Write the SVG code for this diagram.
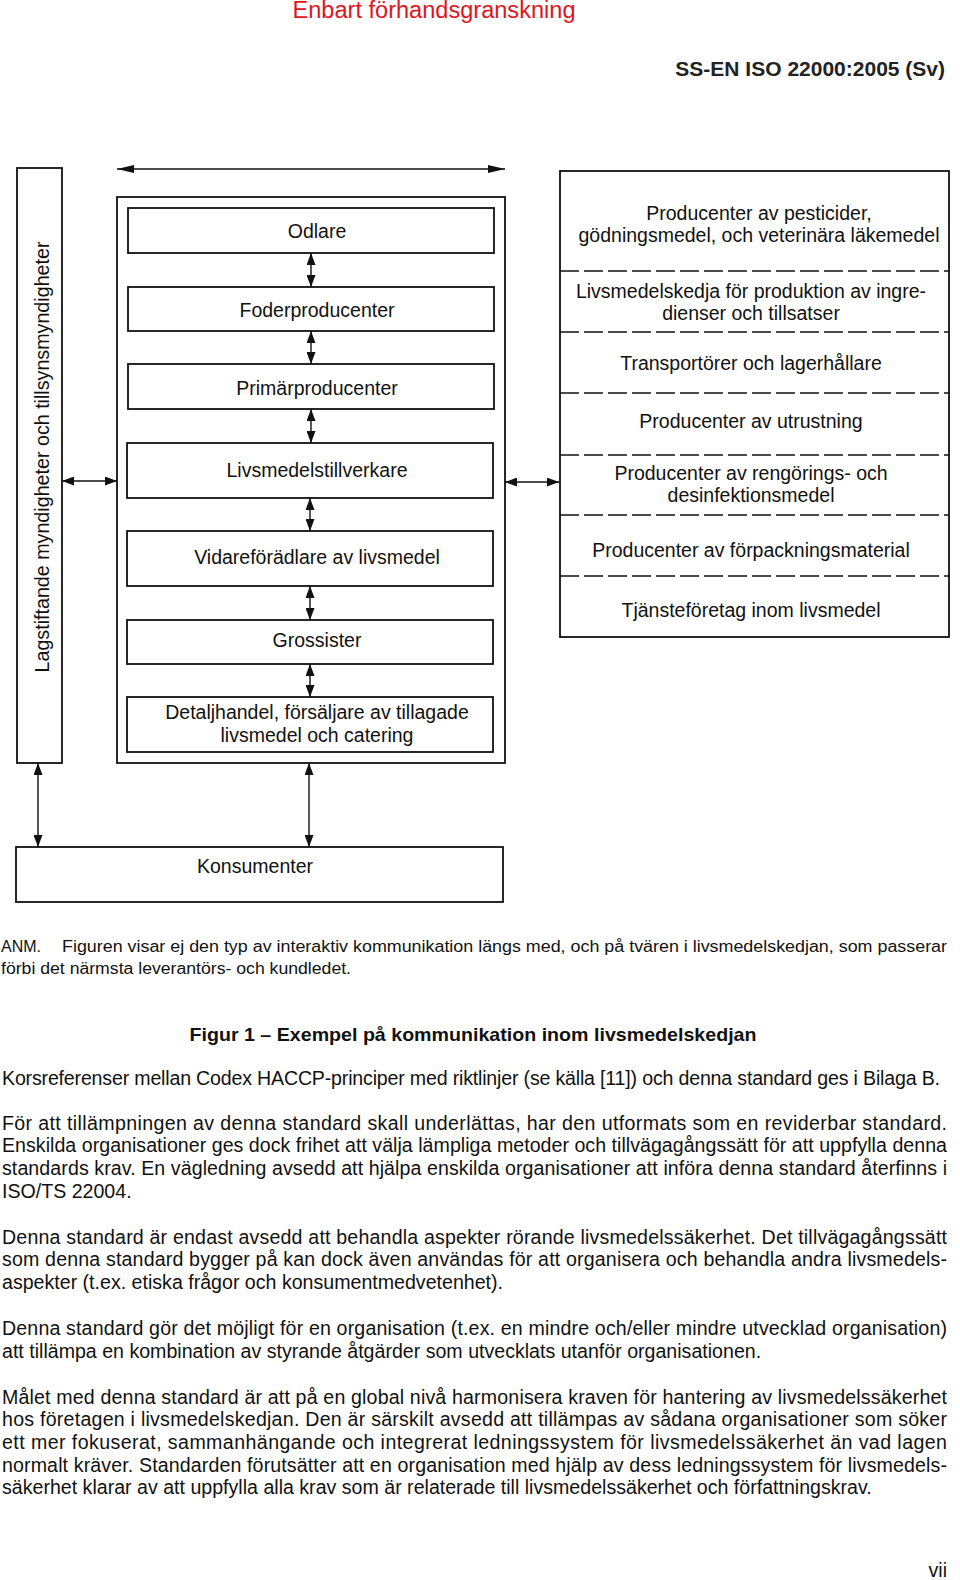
<svg xmlns="http://www.w3.org/2000/svg" width="960" height="1580" viewBox="0 0 960 1580">
<defs>
<style>
.box{fill:none;stroke:#111;stroke-width:1.8}
.dash{fill:none;stroke:#111;stroke-width:1.7;stroke-dasharray:19 5}
.con{fill:none;stroke:#111;stroke-width:1.4}
.lbl{font-family:"Liberation Sans",Arial,sans-serif;font-size:19.5px;fill:#111;text-anchor:middle}
.body{font-family:"Liberation Sans",Arial,sans-serif;font-size:19.6px;fill:#111}
.note{font-family:"Liberation Sans",Arial,sans-serif;font-size:16px;fill:#111}
</style>
<marker id="ah" viewBox="0 0 12 9" refX="12" refY="4.5" markerWidth="12" markerHeight="9" orient="auto-start-reverse" markerUnits="userSpaceOnUse"><path d="M0,0 L12,4.5 L0,9 z" fill="#111"/></marker>
<marker id="ahl" viewBox="0 0 17 8" refX="17" refY="4" markerWidth="17" markerHeight="8" orient="auto-start-reverse" markerUnits="userSpaceOnUse"><path d="M0,0 L17,4 L0,8 z" fill="#111"/></marker>
</defs>
<rect width="960" height="1580" fill="#fff"/>

<text x="434" y="18" font-family="Liberation Sans,Arial,sans-serif" font-size="23" fill="#e0141e" text-anchor="middle" textLength="283" lengthAdjust="spacingAndGlyphs">Enbart förhandsgranskning</text>
<text x="945" y="76" font-family="Liberation Sans,Arial,sans-serif" font-size="21" font-weight="bold" fill="#222" text-anchor="end">SS-EN ISO 22000:2005 (Sv)</text>

<g id="connectors">
<line class="con" x1="117" y1="169" x2="505" y2="169" marker-start="url(#ahl)" marker-end="url(#ahl)"/>
<line class="con" x1="311" y1="253" x2="311" y2="287" marker-start="url(#ah)" marker-end="url(#ah)"/>
<line class="con" x1="311" y1="331" x2="311" y2="364" marker-start="url(#ah)" marker-end="url(#ah)"/>
<line class="con" x1="311" y1="409" x2="311" y2="443" marker-start="url(#ah)" marker-end="url(#ah)"/>
<line class="con" x1="310" y1="498" x2="310" y2="531" marker-start="url(#ah)" marker-end="url(#ah)"/>
<line class="con" x1="310" y1="586" x2="310" y2="620" marker-start="url(#ah)" marker-end="url(#ah)"/>
<line class="con" x1="310" y1="664" x2="310" y2="697" marker-start="url(#ah)" marker-end="url(#ah)"/>
<line class="con" x1="62" y1="481" x2="117" y2="481" marker-start="url(#ah)" marker-end="url(#ah)"/>
<line class="con" x1="505" y1="482" x2="559" y2="482" marker-start="url(#ah)" marker-end="url(#ah)"/>
<line class="con" x1="38" y1="763" x2="38" y2="847" marker-start="url(#ah)" marker-end="url(#ah)"/>
<line class="con" x1="309" y1="763" x2="309" y2="847" marker-start="url(#ah)" marker-end="url(#ah)"/>
</g>

<g id="authorities">
<rect class="box" x="17" y="168" width="45" height="595"/>
<text class="lbl" transform="translate(49,457) rotate(-90)" x="0" y="0" textLength="431" lengthAdjust="spacingAndGlyphs">Lagstiftande myndigheter och tillsynsmyndigheter</text>
</g>

<g id="chain">
<rect class="box" x="117" y="197" width="388" height="566"/>
</g>
<g id="odlare">
<rect class="box" x="128" y="208" width="366" height="45"/>
<text class="lbl" x="317" y="238">Odlare</text>
</g>
<g id="foder">
<rect class="box" x="128" y="287" width="366" height="44"/>
<text class="lbl" x="317" y="317">Foderproducenter</text>
</g>
<g id="primar">
<rect class="box" x="128" y="364" width="366" height="45"/>
<text class="lbl" x="317" y="395">Primärproducenter</text>
</g>
<g id="tillverkare">
<rect class="box" x="127" y="443" width="366" height="55"/>
<text class="lbl" x="317" y="477">Livsmedelstillverkare</text>
</g>
<g id="vidare">
<rect class="box" x="127" y="531" width="366" height="55"/>
<text class="lbl" x="317" y="564">Vidareförädlare av livsmedel</text>
</g>
<g id="grossister">
<rect class="box" x="127" y="620" width="366" height="44"/>
<text class="lbl" x="317" y="647">Grossister</text>
</g>
<g id="detalj">
<rect class="box" x="127" y="697" width="366" height="55"/>
<text class="lbl" x="317" y="719">Detaljhandel, försäljare av tillagade</text>
<text class="lbl" x="317" y="742">livsmedel och catering</text>
</g>

<g id="suppliers">
<rect class="box" x="560" y="171" width="389" height="466"/>
<line class="dash" x1="560" y1="271" x2="949" y2="271"/>
<line class="dash" x1="560" y1="332" x2="949" y2="332"/>
<line class="dash" x1="560" y1="393" x2="949" y2="393"/>
<line class="dash" x1="560" y1="455" x2="949" y2="455"/>
<line class="dash" x1="560" y1="515" x2="949" y2="515"/>
<line class="dash" x1="560" y1="576" x2="949" y2="576"/>
<text class="lbl" x="759" y="220">Producenter av pesticider,</text>
<text class="lbl" x="759" y="242">gödningsmedel, och veterinära läkemedel</text>
<text class="lbl" x="751" y="298">Livsmedelskedja för produktion av ingre-</text>
<text class="lbl" x="751" y="320">dienser och tillsatser</text>
<text class="lbl" x="751" y="370">Transportörer och lagerhållare</text>
<text class="lbl" x="751" y="428">Producenter av utrustning</text>
<text class="lbl" x="751" y="480">Producenter av rengörings- och</text>
<text class="lbl" x="751" y="502">desinfektionsmedel</text>
<text class="lbl" x="751" y="557">Producenter av förpackningsmaterial</text>
<text class="lbl" x="751" y="617">Tjänsteföretag inom livsmedel</text>
</g>

<g id="konsumenter">
<rect class="box" x="16" y="847" width="487" height="55"/>
<text class="lbl" x="255" y="873">Konsumenter</text>
</g>

<text class="note" x="1" y="952">ANM.</text>
<text class="note" x="62" y="952" textLength="885" lengthAdjust="spacingAndGlyphs">Figuren visar ej den typ av interaktiv kommunikation längs med, och på tvären i livsmedelskedjan, som passerar</text>
<text class="note" x="1" y="974" textLength="350" lengthAdjust="spacingAndGlyphs">förbi det närmsta leverantörs- och kundledet.</text>

<text x="473" y="1041" font-family="Liberation Sans,Arial,sans-serif" font-size="19" font-weight="bold" fill="#111" text-anchor="middle" textLength="567" lengthAdjust="spacingAndGlyphs">Figur 1 – Exempel på kommunikation inom livsmedelskedjan</text>

<text class="body" x="2" y="1085" textLength="938" lengthAdjust="spacing">Korsreferenser mellan Codex HACCP-principer med riktlinjer (se källa [11]) och denna standard ges i Bilaga B.</text>
<text class="body" x="2" y="1130" textLength="945" lengthAdjust="spacing">För att tillämpningen av denna standard skall underlättas, har den utformats som en reviderbar standard.</text>
<text class="body" x="2" y="1152" textLength="945" lengthAdjust="spacing">Enskilda organisationer ges dock frihet att välja lämpliga metoder och tillvägagångssätt för att uppfylla denna</text>
<text class="body" x="2" y="1175" textLength="945" lengthAdjust="spacing">standards krav. En vägledning avsedd att hjälpa enskilda organisationer att införa denna standard återfinns i</text>
<text class="body" x="2" y="1198">ISO/TS 22004.</text>
<text class="body" x="2" y="1244" textLength="945" lengthAdjust="spacing">Denna standard är endast avsedd att behandla aspekter rörande livsmedelssäkerhet. Det tillvägagångssätt</text>
<text class="body" x="2" y="1266" textLength="945" lengthAdjust="spacing">som denna standard bygger på kan dock även användas för att organisera och behandla andra livsmedels-</text>
<text class="body" x="2" y="1289">aspekter (t.ex. etiska frågor och konsumentmedvetenhet).</text>
<text class="body" x="2" y="1335" textLength="945" lengthAdjust="spacing">Denna standard gör det möjligt för en organisation (t.ex. en mindre och/eller mindre utvecklad organisation)</text>
<text class="body" x="2" y="1358">att tillämpa en kombination av styrande åtgärder som utvecklats utanför organisationen.</text>
<text class="body" x="2" y="1404" textLength="945" lengthAdjust="spacing">Målet med denna standard är att på en global nivå harmonisera kraven för hantering av livsmedelssäkerhet</text>
<text class="body" x="2" y="1426" textLength="945" lengthAdjust="spacing">hos företagen i livsmedelskedjan. Den är särskilt avsedd att tillämpas av sådana organisationer som söker</text>
<text class="body" x="2" y="1449" textLength="945" lengthAdjust="spacing">ett mer fokuserat, sammanhängande och integrerat ledningssystem för livsmedelssäkerhet än vad lagen</text>
<text class="body" x="2" y="1472" textLength="945" lengthAdjust="spacing">normalt kräver. Standarden förutsätter att en organisation med hjälp av dess ledningssystem för livsmedels-</text>
<text class="body" x="2" y="1494">säkerhet klarar av att uppfylla alla krav som är relaterade till livsmedelssäkerhet och författningskrav.</text>

<text class="body" x="947" y="1577" text-anchor="end">vii</text>
</svg>
